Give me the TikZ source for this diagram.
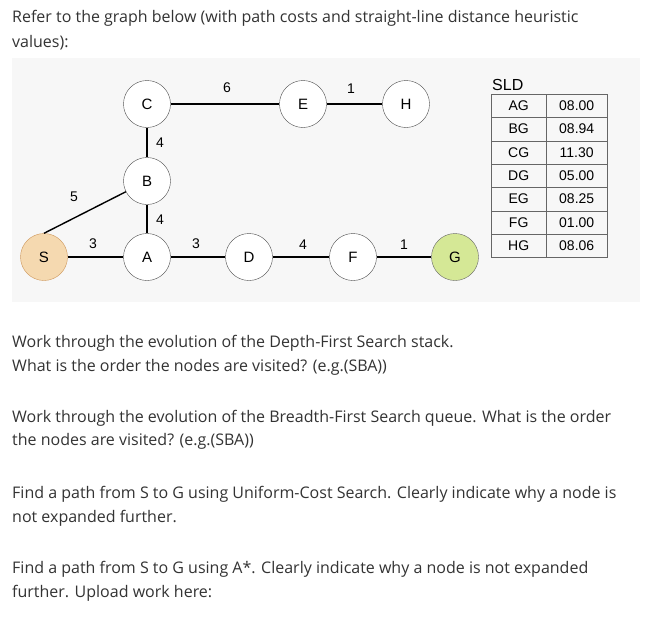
\documentclass[tikz,border=0pt]{standalone}
\usepackage{fontspec}
\setmainfont{Open Sans}
\newfontfamily\helv{Liberation Sans}
\definecolor{txt}{HTML}{333333}
\begin{document}
\begin{tikzpicture}[x=1pt,y=-1pt,
  nd/.style={circle,draw=black!70,fill=white,minimum size=47pt,inner sep=0pt,font=\helv\fontsize{15}{17}\selectfont},
  ed/.style={line width=1.4pt},
  lb/.style={font=\helv\fontsize{14}{16}\selectfont},
  para/.style={anchor=west,text=txt,font=\fontsize{16}{19}\selectfont,inner sep=0pt},
  cell/.style={draw=black!60,minimum width=55pt,minimum height=23.3pt,inner sep=0pt,anchor=north west,font=\helv\fontsize{14}{16}\selectfont}]
\useasboundingbox (0,0) rectangle (660,618);
\fill[fill=white] (0,0) rectangle (660,618);
\fill[black!3] (12,58) rectangle (640,302);
% texts
\node[para] (t1) at (12,18) {Refer to the graph below (with path costs and straight-line distance heuristic};
\node[para] (t2) at (12,43) {values):};
\node[para] (t3) at (12,343) {Work through the evolution of the Depth-First Search stack.};
\node[para] (t4) at (12,367) {What is the order the nodes are visited? (e.g.(SBA))};
\node[para] (t5) at (12,418) {Work through the evolution of the Breadth-First Search queue. What is the order};
\node[para] (t6) at (12,441) {the nodes are visited? (e.g.(SBA))};
\node[para] (t7) at (12,494) {Find a path from S to G using Uniform-Cost Search. Clearly indicate why a node is};
\node[para] (t8) at (12,518) {not expanded further.};
\node[para] (t9) at (12,569) {Find a path from S to G using A*. Clearly indicate why a node is not expanded};
\node[para] (t10) at (12,593) {further. Upload work here:};
% nodes
\node[nd] (C) at (147,104) {C};
\node[nd] (E) at (303,104) {E};
\node[nd] (H) at (406,104) {H};
\node[nd] (B) at (147,181) {B};
\node[nd,fill={rgb,255:red,245;green,217;blue,176},draw={rgb,255:red,205;green,150;blue,90}] (S) at (44,257) {S};
\node[nd] (A) at (147,257) {A};
\node[nd] (D) at (249,257) {D};
\node[nd] (F) at (353,257) {F};
\node[nd,fill={rgb,255:red,213;green,232;blue,150},draw=black!60] (G) at (455,257) {G};
\draw[ed] (C) -- (E); \draw[ed] (E) -- (H);
\draw[ed] (C) -- (B); \draw[ed] (B) -- (A);
\draw[ed] (S.north) -- (B);
\draw[ed] (S) -- (A); \draw[ed] (A) -- (D); \draw[ed] (D) -- (F); \draw[ed] (F) -- (G);
\node[lb] (l1) at (227,88) {6};
\node[lb] (l2) at (351,89) {1};
\node[lb] (l3) at (160,143) {4};
\node[lb] (l4) at (160,220) {4};
\node[lb] (l5) at (74,197) {5};
\node[lb] (l6) at (93,244) {3};
\node[lb] (l7) at (196,244) {3};
\node[lb] (l8) at (303,245) {4};
\node[lb] (l9) at (404,245) {1};
% table
\node[font=\helv\fontsize{16}{18}\selectfont,anchor=west,inner sep=0pt] (sld) at (492,85) {SLD};
\foreach \a/\b [count=\i from 0] in {AG/08.00,BG/08.94,CG/11.30,DG/05.00,EG/08.25,FG/01.00,HG/08.06}{
  \node[cell] (k\i) at (491,94+23.3*\i) {\a};
  \node[cell,minimum width=61pt] (v\i) at (546,94+23.3*\i) {\b};
}
\end{tikzpicture}
\end{document}
